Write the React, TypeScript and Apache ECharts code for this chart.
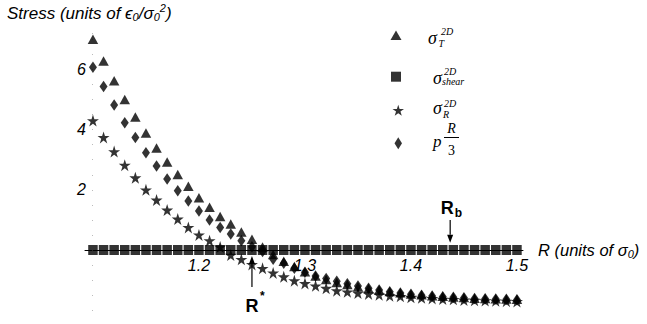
import React, { useEffect, useRef } from 'react';
import * as echarts from 'echarts';

// R values (units of sigma0)
const R = [
  1.10, 1.11, 1.12, 1.13, 1.14, 1.15, 1.16, 1.17, 1.18, 1.19,
  1.20, 1.21, 1.22, 1.23, 1.24, 1.25, 1.26, 1.27, 1.28, 1.29,
  1.30, 1.31, 1.32, 1.33, 1.34, 1.35, 1.36, 1.37, 1.38, 1.39,
  1.40, 1.41, 1.42, 1.43, 1.44, 1.45, 1.46, 1.47, 1.48, 1.49, 1.50,
];
const sigmaT = [
  7.00, 6.28, 5.62, 5.00, 4.42, 3.89, 3.39, 2.92, 2.51, 2.12,
  1.74, 1.42, 1.11, 0.86, 0.60, 0.36, 0.10, -0.15, -0.37, -0.55,
  -0.72, -0.86, -0.98, -1.08, -1.15, -1.22, -1.28, -1.33, -1.38, -1.42,
  -1.46, -1.49, -1.52, -1.54, -1.56, -1.58, -1.60, -1.61, -1.62, -1.63, -1.64,
];
const sigmaShear = [
  0, 0, 0, 0, 0, 0, 0, 0, 0, 0,
  0, 0, 0, 0, 0, 0, 0, 0, 0, 0,
  0, 0, 0, 0, 0, 0, 0, 0, 0, 0,
  0, 0, 0, 0, 0, 0, 0, 0, 0, 0, 0,
];
const sigmaR = [
  4.30, 3.74, 3.27, 2.82, 2.40, 2.00, 1.66, 1.33, 1.03, 0.75,
  0.50, 0.31, 0.10, -0.17, -0.31, -0.48, -0.61, -0.76, -0.89, -1.02,
  -1.11, -1.19, -1.27, -1.35, -1.39, -1.43, -1.46, -1.49, -1.52, -1.54,
  -1.57, -1.59, -1.61, -1.63, -1.64, -1.66, -1.67, -1.68, -1.69, -1.70, -1.71,
];
const pR3 = [
  6.07, 5.43, 4.82, 4.23, 3.74, 3.23, 2.79, 2.36, 1.97, 1.63,
  1.30, 1.00, 0.75, 0.53, 0.31, 0.11, -0.05, -0.31, -0.44, -0.61,
  -0.74, -0.86, -0.95, -1.04, -1.12, -1.20, -1.27, -1.33, -1.39, -1.43,
  -1.47, -1.50, -1.53, -1.55, -1.57, -1.59, -1.61, -1.62, -1.63, -1.64, -1.65,
];
const xTickLabels = ['1.2', '1.3', '1.4', '1.5'];
const yTickLabels = ['2', '4', '6'];
const rStar = 1.25;
const rB = 1.437;

const STAR = 'path://M50,0L61.2,34.5L97.6,34.5L68.2,55.9L79.4,90.5L50,69.1L20.6,90.5L31.8,55.9L2.4,34.5L38.8,34.5Z';
const BLACK = '#000';

export default function App() {
  const ref = useRef<HTMLDivElement>(null);
  useEffect(() => {
    const el = ref.current!;
    const chart = echarts.init(el, null, { renderer: 'svg' });
    const pts = (ys: number[]) => R.map((r, i) => [r, ys[i]]);
    const sans = '"Liberation Sans", Arial, "DejaVu Sans"';
    const serif = '"Liberation Serif", "Times New Roman", "DejaVu Serif"';

    const legendOf = (name: string, icon: string, left: number, top: number, w: number, h: number) => ({
      data: [{ name, icon }],
      left, top, itemWidth: w, itemHeight: h, padding: 0, itemGap: 0,
      selectedMode: false,
      formatter: () => '',
      textStyle: { fontSize: 1 },
    });

    const gridTop = 33.3, gridH = 276.9, yMin = -2, yMax = 7.2;
    const zeroOffset = -(gridH * (0 - yMin)) / (yMax - yMin);

    const option: any = {
      animation: false,
      backgroundColor: '#fff',
      grid: { left: 85, width: 438, top: gridTop, height: gridH, containLabel: false, outerBoundsMode: 'none' },
      xAxis: {
        type: 'value', min: 1.0925, max: 1.5057,
        offset: zeroOffset,
        splitLine: { show: false },
        axisLine: { onZero: false, lineStyle: { color: BLACK, width: 1 } },
        axisTick: { show: false },
        axisLabel: {
          margin: 7, fontFamily: sans, fontStyle: 'italic', fontSize: 16, color: BLACK,
          formatter: (v: number) => {
            const s = v.toFixed(1);
            return Math.abs(v - parseFloat(s)) < 1e-6 && xTickLabels.includes(s) ? s : '';
          },
        },
      },
      yAxis: {
        type: 'value', min: yMin, max: yMax, interval: 2, offset: -8,
        splitLine: { show: false },
        axisLine: { show: false },
        axisTick: { show: true, length: 1, lineStyle: { color: '#bbb' } },
        minorTick: { show: true, splitNumber: 4, length: 1, lineStyle: { color: '#bbb' } },
        axisLabel: {
          margin: 7, fontFamily: sans, fontStyle: 'italic', fontSize: 16, color: BLACK,
          formatter: (v: number) => (yTickLabels.includes(String(v)) ? String(v) : ''),
        },
      },
      legend: [
        legendOf('sigmaT', 'triangle', 390.5, 30.5, 11, 9.5),
        legendOf('sigmaShear', 'rect', 391, 71.7, 10, 10),
        legendOf('sigmaR', STAR, 392.5, 104.5, 11.5, 11.5),
        legendOf('pR3', 'diamond', 394.5, 137.3, 7.5, 12),
      ],
      series: [
        { name: 'sigmaShear', type: 'scatter', data: pts(sigmaShear), symbol: 'rect', symbolSize: [9.5, 10], itemStyle: { color: BLACK } },
        { name: 'sigmaT', type: 'scatter', data: pts(sigmaT), symbol: 'triangle', symbolSize: [10.5, 9.5], itemStyle: { color: BLACK } },
        { name: 'pR3', type: 'scatter', data: pts(pR3), symbol: 'diamond', symbolSize: [8, 11.5], itemStyle: { color: BLACK } },
        { name: 'sigmaR', type: 'scatter', data: pts(sigmaR), symbol: STAR, symbolSize: 12, itemStyle: { color: BLACK } },
      ],
    };
    chart.setOption(option);

    const ctx = document.createElement('canvas').getContext('2d')!;
    const mw = (t: string, font: string) => { ctx.font = font; return ctx.measureText(t).width; };
    const txt = (text: string, x: number, y: number, font: string, align = 'left') => ({
      type: 'text', x, y, silent: true,
      style: { text, font, fill: BLACK, textAlign: align, textVerticalAlign: 'middle', align, verticalAlign: 'middle' },
    });
    const seq = (x0: number, y0: number, parts: [string, string, number][]) => {
      const out: any[] = [];
      let x = x0;
      for (const [t, f, dy] of parts) {
        out.push(txt(t, x, y0 + dy, f));
        x += mw(t, f);
      }
      return out;
    };
    const px = (r: number, v: number) => chart.convertToPixel({ gridIndex: 0 }, [r, v]) as number[];
    const arrow = (r: number, vTip: number, vTail: number) => {
      const [x, yTip] = px(r, vTip);
      const [, yTail] = px(r, vTail);
      const s = yTail > yTip ? 1 : -1;
      const head = 8, hw = 3;
      return [
        { type: 'line', silent: true, shape: { x1: x, y1: yTail, x2: x, y2: yTip + s * head }, style: { stroke: BLACK, lineWidth: 1.2 } },
        { type: 'polygon', silent: true, shape: { points: [[x, yTip], [x - hw, yTip + s * head], [x + hw, yTip + s * head]] }, style: { fill: BLACK } },
      ];
    };

    const m17 = `italic 17px ${sans}`;
    const m16 = `italic 16.5px ${sans}`;
    const s11 = `italic 11px ${sans}`;
    const sig = `italic 18px ${serif}`;
    const sm = `italic 10px ${serif}`;
    const bold18 = `bold 18px ${sans}`;
    const bold11 = `bold 12px ${sans}`;

    const [xs] = px(rStar, 0);
    const [, yStarLbl] = px(rStar, -1.85);
    const [xb] = px(rB, 0);
    const [, yBLbl] = px(rB, 1.4);

    const graphic: any[] = [
      ...seq(7, 13, [
        ['Stress (units of ', m17, 0], ['ϵ', m17, 0], ['0', s11, 4], ['/', m17, 0],
        ['σ', m17, 0], ['0', s11, 4], ['2', s11, -5], [')', m17, 0],
      ]),
      ...seq(538, 250, [['R (units of ', m16, 0], ['σ', m16, 0], ['0', s11, 4], [')', m16, 0]]),
      // legend labels
      txt('σ', 428, 37.5, sig), txt('2D', 441, 31, sm), txt('T', 438.5, 43, sm),
      txt('σ', 433, 77.5, sig), txt('2D', 444, 71.5, sm), txt('shear', 442, 81, sm),
      txt('σ', 433, 107.5, sig), txt('2D', 444, 103.5, sm), txt('R', 443, 114, sm),
      txt('p', 433, 141, `italic 17px ${serif}`),
      txt('R', 451.5, 128, `italic 14px ${serif}`, 'center'),
      { type: 'line', silent: true, shape: { x1: 444, y1: 137.5, x2: 459, y2: 137.5 }, style: { stroke: BLACK, lineWidth: 1 } },
      txt('3', 451.5, 150, `14px ${serif}`, 'center'),
      // annotations
      ...arrow(rStar, -0.2, -1.23),
      txt('R', xs, yStarLbl, bold18, 'center'),
      txt('*', xs + 8, yStarLbl - 10, bold11),
      ...arrow(rB, 0.24, 1.0),
      txt('R', xb - 3, yBLbl, bold18, 'center'),
      txt('b', xb + 4.5, yBLbl + 5, bold11),
    ];
    chart.setOption({ graphic });

    return () => chart.dispose();
  }, []);
  return <div ref={ref} style={{ position: 'fixed', left: 0, top: 0, width: 647, height: 324 }} />;
}
